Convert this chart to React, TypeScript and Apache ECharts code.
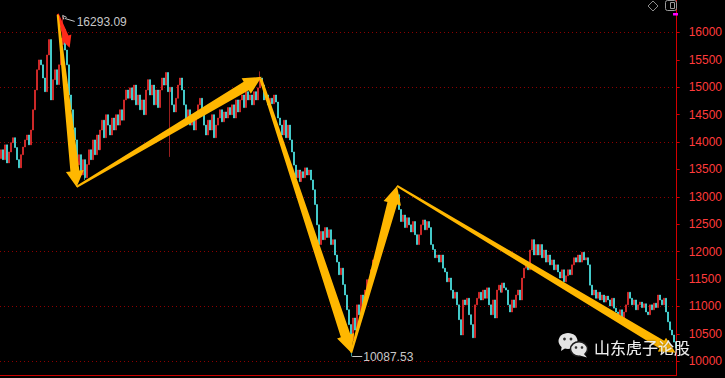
import React, { useEffect, useRef } from "react";
import * as echarts from "echarts";

// Daily closes (index = trading day)
const closes: number[] = [
  13860, 13680, 13950, 13620, 13820, 13990, 14080, 13900, 13680, 13530,
  13770, 13910, 14040, 14130, 13950, 14220, 14590, 14950, 15320, 15500,
  15410, 15170, 14920, 15590, 15870, 14770, 15140, 15320, 15050, 15410,
  15780, 16050, 15680, 15410, 14860, 14590, 14260, 14040, 13585, 13770,
  13400, 13680, 13350, 13590, 13860, 13680, 14040, 13770, 14130, 13860,
  14220, 14400, 14080, 14500, 14310, 14130, 14440, 14220, 14500, 14310,
  14590, 14400, 14770, 14950, 14800, 14990, 14770, 15040, 14680, 14860,
  14590, 14770, 14500, 14950, 15140, 14860, 15040, 14680, 14950, 14630,
  14950, 15170, 15040, 15270, 14920, 15000, 14680, 14550, 14800, 15040,
  15170, 14950, 14680, 14400, 14590, 14310, 14500, 14220, 14440, 14680,
  14800, 14500, 14310, 14130, 14400, 14220, 14500, 14080, 14310, 14440,
  14590, 14370, 14550, 14440, 14630, 14500, 14680, 14440, 14770, 14550,
  14770, 14860, 14630, 14920, 14770, 14860, 14680, 14920, 14770, 14990,
  15170, 15040, 14770, 14860, 14680, 14800, 14700, 14860, 14730, 14440,
  14310, 14130, 14400, 14080, 14310, 14040, 13820, 13580, 13350, 13490,
  13280, 13460, 13350, 13530, 13400, 13490, 13310, 13130, 12860, 12490,
  12130, 12370, 12220, 12440, 12260, 12400, 12130, 12220, 11940, 11810,
  11580, 11700, 11400, 11210, 10940, 10670, 10390, 10790, 10570, 11030,
  10850, 11210, 11030, 11300, 11490, 11390, 11670, 11850, 11760, 12030,
  12130, 12310, 12490, 12400, 12670, 12580, 12730, 12860, 12950, 13040,
  12770, 12550, 12670, 12440, 12620, 12490, 12360, 12550, 12310, 12130,
  12310, 12490, 12580, 12400, 12550, 12440, 12130, 12040, 11890, 11940,
  11810, 11940, 11700, 11630, 11450, 11520, 11300, 11150, 11260, 11030,
  10760, 10480, 11120, 11030, 11150, 10850, 10670, 10430, 11030, 11150,
  11260, 11120, 11300, 11150, 11340, 11030, 10850, 11120, 10790, 11300,
  11390, 11260, 11430, 11340, 11300, 11030, 10900, 11120, 10980, 11210,
  11300, 11120, 11520, 11700, 11810, 11670, 12030, 12220, 11940, 12130,
  11940, 12130, 11890, 12030, 11810, 11940, 11760, 11850, 11670, 11760,
  11630, 11520, 11670, 11450, 11560, 11670, 11580, 11760, 11890, 11810,
  11940, 11810, 11990, 11850, 11890, 11760, 11390, 11210, 11300, 11150,
  11260, 11120, 11210, 11080, 11190, 11120, 11010, 11150, 10970, 10900,
  10850, 10940, 10790, 10900, 11030, 11260, 11150, 11030, 11120, 10940,
  11030, 11080, 10980, 11050, 10900, 10850, 11030, 10940, 11060, 10980,
  11210, 11120, 11030, 11150, 10900, 10720, 10570, 10480, 10350, 10240,
];
const firstOpen = 13700;
// notable wicks [dayIndex, price]
const highWicks: [number, number][] = [[31, 16293.09], [130, 15290], [199, 13080]];
const lowWicks: [number, number][] = [[42, 13310], [85, 13730], [176, 10087.53]];

const tickValues = [10000, 10500, 11000, 11500, 12000, 12500, 13000, 13500, 14000, 14500, 15000, 15500, 16000];
const gridValues = [10000, 11000, 12000, 13000, 14000, 15000, 16000];
const yMin = 9750;
const yMax = 16593;

// Trend arrows in data space: [dayIndex, price]
type Arrow = { from: [number, number]; to: [number, number]; w0: number; w1: number; hw: number; hl: number; color: string };
const arrows: Arrow[] = [
  { from: [28.5, 16341], to: [34.5, 15721], w0: 2, w1: 6, hw: 12, hl: 12, color: "#ff2a1a" },
  { from: [28.5, 16323], to: [38, 13182], w0: 2, w1: 9, hw: 18, hl: 16, color: "#ffb700" },
  { from: [38, 13182], to: [131, 15191], w0: 2, w1: 10, hw: 18, hl: 18, color: "#ffb700" },
  { from: [130.5, 15155], to: [176, 10155], w0: 3, w1: 10, hw: 18, hl: 18, color: "#ffb700" },
  { from: [176, 10155], to: [199, 13200], w0: 2, w1: 10, hw: 18, hl: 18, color: "#ffb700" },
  { from: [199, 13200], to: [339, 10155], w0: 2, w1: 9, hw: 16, hl: 16, color: "#ffb700" },
];
const watermark = "山东虎子论股";

const categories = closes.map((_, i) => String(i));
const candles = closes.map((c, i) => {
  const o = i === 0 ? firstOpen : closes[i - 1];
  let lo = Math.min(o, c);
  let hi = Math.max(o, c);
  highWicks.forEach(([k, v]) => { if (k === i) hi = v; });
  lowWicks.forEach(([k, v]) => { if (k === i) lo = v; });
  return [o, c, lo, hi];
});

const FONT = '"Liberation Sans", Arial, sans-serif';

export default function App() {
  const ref = useRef<HTMLDivElement>(null);
  useEffect(() => {
    document.body.style.margin = "0";
    document.body.style.background = "#000";
    const chart = echarts.init(ref.current!, null, { renderer: "svg" });
    chart.setOption({
      animation: false,
      backgroundColor: "#000",
      textStyle: { fontFamily: FONT },
      grid: { left: 0, right: 45, top: 0, bottom: 3 },
      xAxis: {
        type: "category",
        data: categories,
        boundaryGap: true,
        axisLine: { show: true, lineStyle: { color: "#c80000", width: 1 } },
        axisTick: { show: false },
        axisLabel: { show: false },
        splitLine: { show: false },
      },
      yAxis: [
        {
          type: "value",
          position: "right",
          min: yMin,
          max: yMax,
          minInterval: 500,
          maxInterval: 500,
          splitNumber: 13,
          axisLine: { show: true, lineStyle: { color: "#d40000", width: 1 } },
          axisTick: { show: true, length: 3, lineStyle: { color: "#d40000" }, customValues: tickValues },
          axisLabel: {
            show: true,
            margin: 12,
            color: "#ff3b3b",
            fontSize: 12,
            fontFamily: FONT,
            customValues: tickValues,
            formatter: (v: number) => (tickValues.indexOf(v) >= 0 ? String(v) : ""),
          },
          splitLine: { show: false },
        },
        {
          type: "value",
          position: "right",
          min: yMin,
          max: yMax,
          minInterval: 1000,
          maxInterval: 1000,
          axisLine: { show: false },
          axisTick: { show: false, customValues: gridValues },
          axisLabel: { show: false },
          splitLine: { show: true, lineStyle: { type: [1, 3], color: "#8c0000", width: 1 } },
        },
      ],
      series: [
        {
          type: "candlestick",
          data: candles,
          yAxisIndex: 0,
          barWidth: 1.5,
          itemStyle: {
            color: "#ff3232",
            color0: "#54fcfc",
            borderColor: "#ff3232",
            borderColor0: "#54fcfc",
            borderWidth: 0.6,
          },
        },
      ],
    });

    const px = (i: number, v: number): [number, number] => {
      const a = chart.convertToPixel({ gridIndex: 0 }, [0, v]) as number[];
      const b = chart.convertToPixel({ gridIndex: 0 }, [1, v]) as number[];
      return [a[0] + i * (b[0] - a[0]), a[1]];
    };

    const elements: any[] = [];
    arrows.forEach((ar) => {
      const p0 = px(ar.from[0], ar.from[1]);
      const p1 = px(ar.to[0], ar.to[1]);
      const dx = p1[0] - p0[0];
      const dy = p1[1] - p0[1];
      const len = Math.sqrt(dx * dx + dy * dy);
      const ux = dx / len, uy = dy / len;
      const nx = -uy, ny = ux;
      const bx = p1[0] - ux * ar.hl, by = p1[1] - uy * ar.hl;
      const pts = [
        [p0[0] + nx * ar.w0 / 2, p0[1] + ny * ar.w0 / 2],
        [bx + nx * ar.w1 / 2, by + ny * ar.w1 / 2],
        [bx + nx * ar.hw / 2, by + ny * ar.hw / 2],
        [p1[0], p1[1]],
        [bx - nx * ar.hw / 2, by - ny * ar.hw / 2],
        [bx - nx * ar.w1 / 2, by - ny * ar.w1 / 2],
        [p0[0] - nx * ar.w0 / 2, p0[1] - ny * ar.w0 / 2],
      ];
      elements.push({ type: "polygon", z: 100, silent: true, shape: { points: pts }, style: { fill: ar.color } });
    });

    // extreme labels
    let hiIdx = 0, loIdx = 0;
    candles.forEach((c, i) => {
      if (c[3] > candles[hiIdx][3]) hiIdx = i;
      if (c[2] < candles[loIdx][2]) loIdx = i;
    });
    const hp = px(hiIdx, candles[hiIdx][3]);
    const lp = px(loIdx, candles[loIdx][2]);
    const labelColor = "#c8c8c8";
    elements.push({ type: "polyline", z: 110, silent: true, shape: { points: [[hp[0] + 4, hp[1] + 1], [hp[0], hp[1] - 1], [hp[0] + 1, hp[1] + 3]] }, style: { stroke: labelColor, lineWidth: 1, fill: null } });
    elements.push({ type: "line", z: 110, silent: true, shape: { x1: hp[0] + 2, y1: hp[1] + 2, x2: hp[0] + 12, y2: hp[1] + 5 }, style: { stroke: labelColor, lineWidth: 1 } });
    elements.push({ type: "text", z: 110, silent: true, x: hp[0] + 14, y: hp[1] + 6, style: { text: candles[hiIdx][3].toFixed(2), fill: labelColor, fontSize: 12, fontFamily: FONT, align: "left", verticalAlign: "middle" } });
    elements.push({ type: "line", z: 110, silent: true, shape: { x1: lp[0] + 1, y1: lp[1], x2: lp[0] + 11, y2: lp[1] }, style: { stroke: labelColor, lineWidth: 1 } });
    elements.push({ type: "text", z: 110, silent: true, x: lp[0] + 12, y: lp[1], style: { text: candles[loIdx][2].toFixed(2), fill: labelColor, fontSize: 12, fontFamily: FONT, align: "left", verticalAlign: "middle" } });

    // top-right toolbar icons
    elements.push({ type: "polygon", z: 110, silent: true, shape: { points: [[653, 1], [658, 6], [653, 11], [648, 6]] }, style: { fill: null, stroke: "#8a8a8a", lineWidth: 1 } });
    elements.push({ type: "rect", z: 110, silent: true, shape: { x: 665.5, y: 0.5, width: 11, height: 10, r: 2 }, style: { fill: null, stroke: "#9a9a9a", lineWidth: 1 } });
    elements.push({ type: "rect", z: 110, silent: true, shape: { x: 670.5, y: 2.5, width: 4, height: 6 }, style: { fill: null, stroke: "#9a9a9a", lineWidth: 1 } });
    elements.push({ type: "rect", z: 110, silent: true, shape: { x: 673, y: 13, width: 5, height: 2.5 }, style: { fill: "#ff00ff" } });

    // watermark (WeChat-style icon + text)
    const iconFill = "#e4e4e4";
    elements.push({ type: "ellipse", z: 120, silent: true, shape: { cx: 568, cy: 341, rx: 9.5, ry: 8 }, style: { fill: iconFill } });
    elements.push({ type: "polygon", z: 120, silent: true, shape: { points: [[562, 345], [561, 351], [567, 347]] }, style: { fill: iconFill } });
    elements.push({ type: "circle", z: 121, silent: true, shape: { cx: 564.5, cy: 339, r: 1.4 }, style: { fill: "#333" } });
    elements.push({ type: "circle", z: 121, silent: true, shape: { cx: 571, cy: 339, r: 1.4 }, style: { fill: "#333" } });
    elements.push({ type: "ellipse", z: 122, silent: true, shape: { cx: 579, cy: 349, rx: 8.5, ry: 7.2 }, style: { fill: iconFill, stroke: "#1a1a1a", lineWidth: 1.5 } });
    elements.push({ type: "polygon", z: 122, silent: true, shape: { points: [[583, 353], [587, 357.5], [580, 355.5]] }, style: { fill: iconFill } });
    elements.push({ type: "circle", z: 123, silent: true, shape: { cx: 576, cy: 347.5, r: 1.3 }, style: { fill: "#333" } });
    elements.push({ type: "circle", z: 123, silent: true, shape: { cx: 582, cy: 347.5, r: 1.3 }, style: { fill: "#333" } });
    elements.push({ type: "text", z: 124, silent: true, x: 594, y: 347, style: { text: watermark, fill: "#eeeeee", fontSize: 16, fontFamily: '"Noto Sans CJK SC", sans-serif', align: "left", verticalAlign: "middle", textShadowColor: "rgba(0,0,0,0.6)", textShadowBlur: 2 } });

    chart.setOption({ graphic: { elements } });
    return () => chart.dispose();
  }, []);
  return <div ref={ref} style={{ position: "absolute", left: 0, top: 0, width: 725, height: 378 }} />;
}
